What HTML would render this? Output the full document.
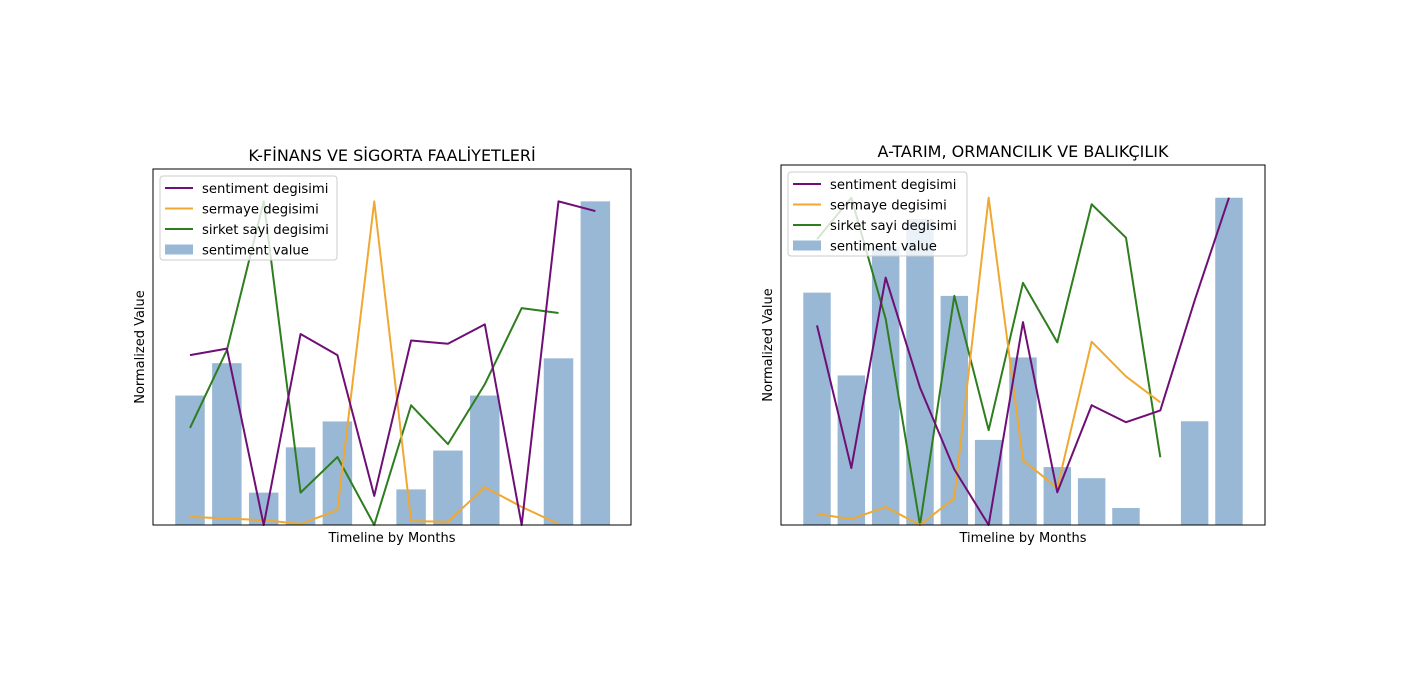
<!DOCTYPE html>
<html><head><meta charset="utf-8"><style>
body{margin:0;background:#fff;}
svg{display:block;font-family:"DejaVu Sans","Liberation Sans",sans-serif;}
</style></head><body>
<svg id="chart" width="1410" height="700" viewBox="0 0 1410 700"></svg>
<script>
// Left chart data
const leftCats = [1,2,3,4,5,6,7,8,9,10,11,12];
const leftBars = [0.40,0.50,0.10,0.24,0.32,0,0.11,0.23,0.40,0,0.515,1.0];
const leftSent = [0.525,0.545,0,0.59,0.525,0.09,0.57,0.56,0.62,0,1.0,0.97];
const leftSerm = [0.025,0.02,0.015,0.003,0.046,1.0,0.012,0.01,0.117,0.056,0.003];
const leftSirk = [0.30,0.54,1.0,0.10,0.21,0,0.37,0.25,0.435,0.67,0.655];
// Right chart data
const rightCats = [1,2,3,4,5,6,7,8,9,10,11,12,13];
const rightBars = [0.71,0.457,0.85,0.935,0.70,0.26,0.512,0.177,0.143,0.052,0,0.317,1.0];
const rightSent = [0.61,0.174,0.756,0.42,0.17,0,0.62,0.10,0.366,0.314,0.35,0.686,1.0];
const rightSerm = [0.034,0.018,0.055,0,0.082,1.0,0.198,0.113,0.56,0.454,0.375];
const rightSirk = [0.873,1.0,0.63,0,0.70,0.290,0.74,0.558,0.98,0.878,0.207];

const NS="http://www.w3.org/2000/svg";
const svg=document.getElementById('chart');
function mk(tag,attrs,parent){const e=document.createElementNS(NS,tag);for(const k in attrs)e.setAttribute(k,attrs[k]);(parent||svg).appendChild(e);return e;}

function drawChart(cfg){
  const g=mk('g',{});
  
  
  const {x0,x1,y0,y1,first,step}=cfg;
  const xs=i=>first+i*step;
  const ys=v=>y1-v*(y1-y0)/1.1;
  const bw=step*0.8;
  cfg.bars.forEach((v,i)=>{
    const r=mk('rect',{x:xs(i)-bw/2,y:ys(v),width:bw,height:y1-ys(v),fill:'#98b8d6'},g);
    
    
  });
  const series=[[cfg.sirk,'#2e7d1e','sirket-sayi-line'],[cfg.serm,'#f0a830','sermaye-line'],[cfg.sent,'#6f0f75','sentiment-line']];
  series.forEach(([arr,col,nm])=>{
    const p=mk('polyline',{points:arr.map((v,i)=>xs(i)+','+ys(v)).join(' '),fill:'none',stroke:col,'stroke-width':2,'stroke-linejoin':'round'},g);
    
    
  });
  const fr=mk('rect',{x:x0,y:y0,width:x1-x0,height:y1-y0,fill:'none',stroke:'#000','stroke-width':1},g);
  
  
  const t=mk('text',{x:(x0+x1)/2,y:y0-8,'text-anchor':'middle','font-size':16},g);
  t.textContent=cfg.title;
  
  
  const xl=mk('text',{x:(x0+x1)/2,y:y1+17,'text-anchor':'middle','font-size':13},g);
  xl.textContent='Timeline by Months';
  
  
  const yl=mk('text',{x:0,y:0,'text-anchor':'middle','font-size':13,transform:`translate(${x0-9},${(y0+y1)/2}) rotate(-90)`},g);
  yl.textContent='Normalized Value';
  
  
  const lg=mk('g',{},g);
  
  
  const lx=x0+7,ly=y0+7;
  mk('rect',{x:lx,y:ly,width:cfg.lw,height:84,rx:3,fill:'#fff','fill-opacity':0.8,stroke:'#ccc'},lg);
  const items=[['line','#6f0f75','sentiment degisimi'],['line','#f0a830','sermaye degisimi'],['line','#2e7d1e','sirket sayi degisimi'],['patch','#98b8d6','sentiment value']];
  items.forEach((it,i)=>{
    const cy=ly+11+i*20.5;
    const e=mk('g',{},lg);
    
    
    if(it[0]==='line')mk('line',{x1:lx+5,x2:lx+33,y1:cy+1,y2:cy+1,stroke:it[1],'stroke-width':2},e);
    else mk('rect',{x:lx+5,y:cy-4,width:28,height:10,fill:it[1]},e);
    const tx=mk('text',{x:lx+42,y:cy+6,'font-size':13.2},e);
    tx.textContent=it[2];
  });
}
drawChart({name:'left-chart',title:'K-FİNANS VE SİGORTA FAALİYETLERİ',x0:153,x1:631,y0:169,y1:525,first:190,step:36.85,bars:leftBars,sent:leftSent,serm:leftSerm,sirk:leftSirk,lw:177});
drawChart({name:'right-chart',title:'A-TARIM, ORMANCILIK VE BALIKÇILIK',x0:781,x1:1265,y0:165,y1:525,first:817,step:34.33,bars:rightBars,sent:rightSent,serm:rightSerm,sirk:rightSirk,lw:179});
</script>
</body></html>
